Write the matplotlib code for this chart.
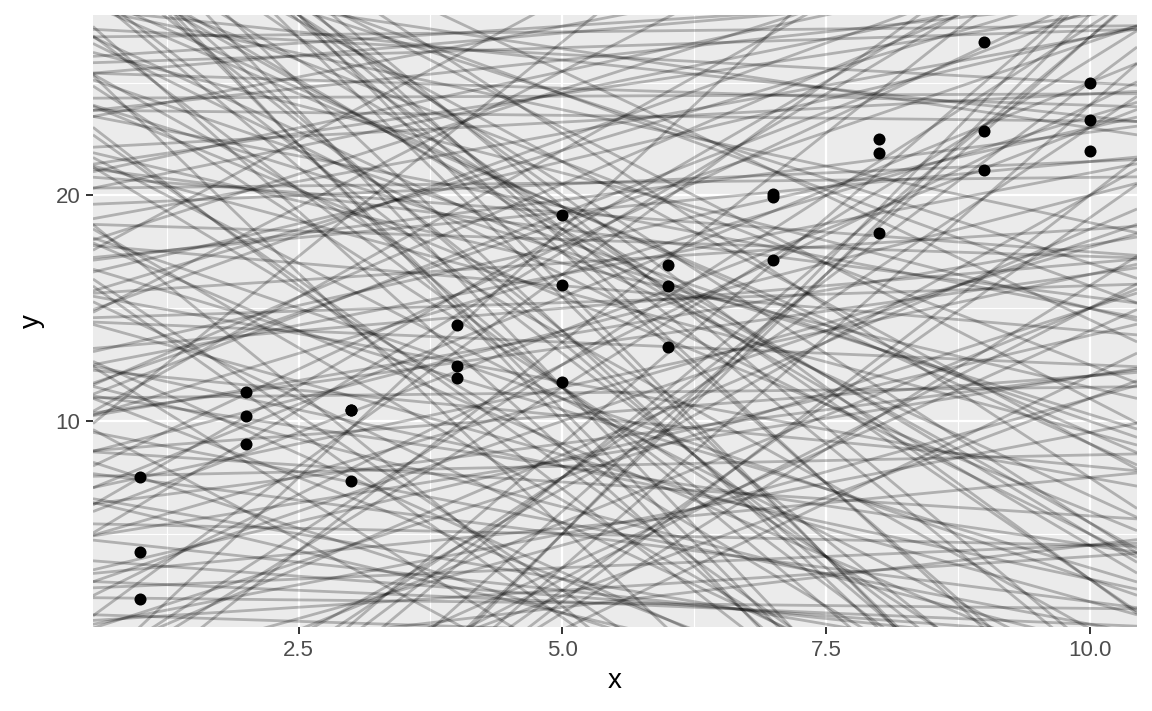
import matplotlib
matplotlib.use("Agg")
import matplotlib.pyplot as plt
import numpy as np

# sim1-style points
px = [1, 1, 1, 2, 2, 2, 3, 3, 3, 4, 4, 4, 5, 5, 5,
      6, 6, 6, 7, 7, 7, 8, 8, 8, 9, 9, 9, 10, 10, 10]
py = [4.20, 7.51, 2.13, 8.99, 10.24, 11.30, 7.36, 10.51, 10.51,
      12.43, 11.89, 14.26, 19.13, 11.74, 16.02, 13.27, 16.93, 15.99,
      17.16, 20.08, 19.91, 18.33, 21.87, 22.50, 21.13, 26.81, 22.84,
      24.99, 23.35, 21.96]

# candidate models (intercept, slope)
intercepts = [24.3, 20.3, 25.5, 22.0, 14.5, 18.0, 5.0, -3.0, 30.0, 35.0,
              12.0, 8.0, 27.0, 2.5, -10.0, 38.0, 16.0, 10.0, 26.0, 3.0,
              -15.0, 40.0, 19.0, 6.0, 28.5, 1.0, 13.0, 23.0, -6.0, 9.5,
              31.0, 17.0, 4.0, 21.0, -2.0, 33.0, 11.0, 7.0, 25.0, -12.0,
              15.0, 29.0, 0.5, 36.0, 18.5, -8.0, 12.5, 24.0, 2.0, 32.0,
              8.5, -18.0, 20.0, 14.0, 26.5, 5.5, 39.0, 10.5, -4.0, 22.5,
              16.5, 3.5, 27.5, 9.0, 34.0, -1.0, 19.5, 13.5, 30.5, 6.5,
              -14.0, 37.0, 11.5, 23.5, 1.5, 17.5, 28.0, -7.0, 15.5, 8.0,
              33.5, 4.5, 21.5, -11.0, 25.8, 12.0, 38.5, 0.0, 18.0, 29.5,
              7.5, -5.0, 14.5, 26.0, 2.8, 35.5, 10.0, -16.0, 20.5, 5.0,
              31.5, 16.0, -9.0, 24.5, 9.0, 13.0, 36.5, -3.5, 22.0, 6.0,
              27.0, 11.0, 3.0, 32.5, 18.8, -13.0, 15.0, 39.5, 7.0, 23.0,
              -1.5, 28.8, 12.5, 34.5, 1.0, 19.0, -19.0, 26.8, 8.8, 16.8,
              30.0, 4.2, -6.5, 37.5, 21.0, 10.8, 14.0, 25.2, -10.5, 2.2,
              33.0, 17.2, 6.8, 29.0, -17.0, 12.2, 23.8, 9.8, 35.0, -2.5,
              27.8, 31.0, 22.8, 34.0, 17.8, 25.0, 29.8, 13.8, 20.8, 36.0,
              -0.5, 4.8, 10.2, 16.2, 7.8, 19.8, 24.8, 28.2, 38.0, 32.0]
slopes = [0.02, 0.05, -0.15, 0.25, 0.15, -0.4, 1.8, 2.9, -2.1, -3.2,
          0.9, -0.6, -1.2, 0.2, 3.5, -4.1, 1.1, -0.9, 0.3, -0.2,
          4.2, -4.8, -1.6, 0.6, -0.5, 2.3, -1.0, -2.4, 2.6, 1.4,
          -3.6, 0.45, -0.35, 0.7, 1.3, -2.8, 0.05, -0.8, -1.9, 3.9,
          -1.3, 0.1, 0.9, -4.4, 0.85, 3.1, -0.45, -0.9, 1.6, -1.5,
          0.35, 4.6, -2.7, 1.7, -3.0, -0.1, -3.9, 2.0, 1.9, -1.1,
          -2.2, 2.8, -0.25, -1.5, -2.5, 0.55, 0.2, 2.4, -1.8, 1.0,
          3.3, -3.4, -0.7, 0.5, -0.15, -1.4, -2.3, 2.1, 0.3, 1.2,
          -4.0, 0.75, -0.6, 4.0, 0.15, -1.8, -4.6, 1.5, -3.1, -2.0,
          0.1, 3.7, -0.2, -1.6, 1.1, -3.0, 0.65, 3.6, 1.0, -0.5,
          -2.6, -0.85, 2.4, -3.3, 2.6, 0.4, -2.2, 4.4, -1.25, 1.9,
          0.05, -2.5, 0.45, -3.7, -0.15, 2.9, 1.4, -4.3, -1.1, 0.9,
          2.0, -1.0, 1.05, -4.9, 0.3, -2.0, 4.8, -2.6, -0.3, 0.6,
          -0.7, 1.35, 1.75, -3.8, -0.35, 1.6, -2.9, 0.4, 2.25, -0.05,
          -1.7, 1.5, 2.2, -3.5, 4.1, -1.2, -0.05, 0.8, -2.4, 3.0,
          -4.5, -3.9, -2.8, -4.7, -3.3, -3.6, -4.2, -2.1, -3.8, -4.9,
          3.4, 2.7, 1.8, 2.5, 3.8, 0.95, -1.45, -2.15, -3.05, -2.75]

fig = plt.figure(figsize=(11.52, 7.11), dpi=100)
ax = fig.add_axes([0.0807, 0.118, 0.9063, 0.861])
ax.set_facecolor("#EBEBEB")

xlim = (0.55, 10.45)
ylim = (0.87, 28.0)

xs = np.array(xlim)
for a, b in zip(intercepts, slopes):
    ax.plot(xs, a + b * xs, color="black", alpha=0.25, lw=2.0,
            solid_capstyle="butt", zorder=2)

ax.scatter(px, py, s=75, color="black", zorder=3, linewidths=0)

ax.set_xlim(xlim)
ax.set_ylim(ylim)
ax.set_xticks([2.5, 5.0, 7.5, 10.0])
ax.set_xticklabels(["2.5", "5.0", "7.5", "10.0"])
ax.set_yticks([10, 20])
ax.set_xticks([1.25, 3.75, 6.25, 8.75], minor=True)
ax.set_yticks([5, 15, 25], minor=True)
ax.grid(which="major", color="white", lw=1.6, zorder=0)
ax.grid(which="minor", color="white", lw=0.8, zorder=0)
ax.set_axisbelow(True)
for s in ax.spines.values():
    s.set_visible(False)
ax.tick_params(which="major", length=5, width=1.4, color="#333333",
               labelsize=16, labelcolor="#4D4D4D", pad=4)
ax.tick_params(which="minor", length=0)
for lab in ax.get_xticklabels() + ax.get_yticklabels():
    lab.set_family("Liberation Sans")
ax.set_xlabel("x", fontsize=20, family="Liberation Sans", labelpad=5)
ax.set_ylabel("y", fontsize=20, family="Liberation Sans", labelpad=8)

fig.savefig("out.png", dpi=100)
